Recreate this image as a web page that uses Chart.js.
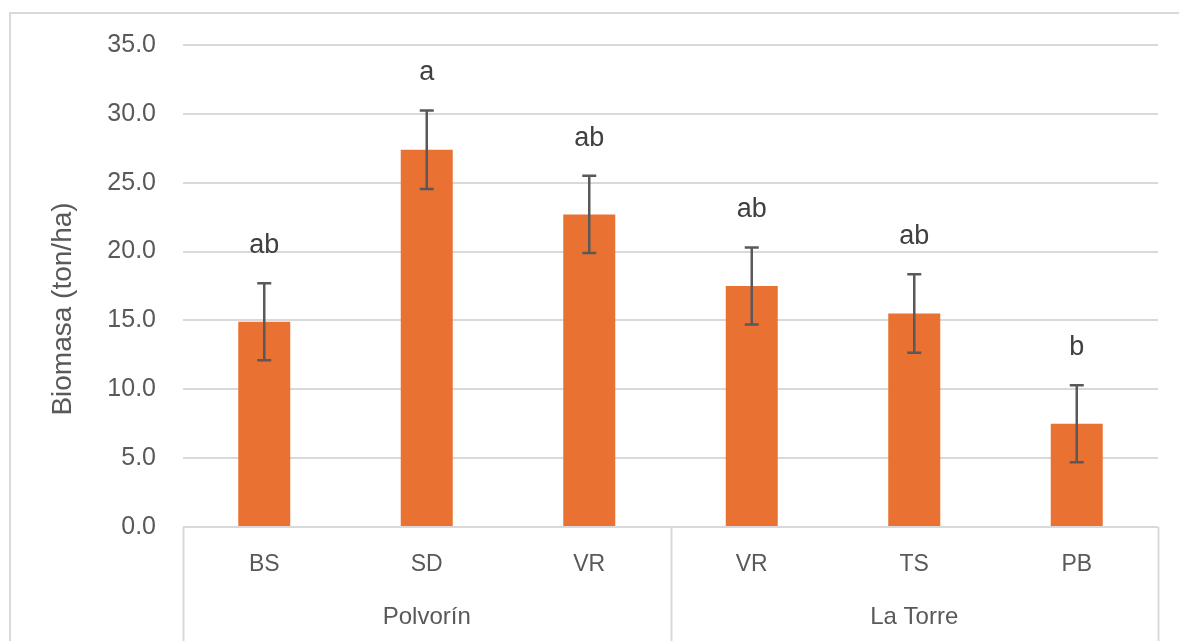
<!DOCTYPE html>
<html>
<head>
<meta charset="utf-8">
<script src="https://cdn.jsdelivr.net/npm/chart.js@4"></script>
<style>
  body { margin: 0; background: #fff; }
  #wrap { width: 1179px; height: 641px; position: relative; }
</style>
</head>
<body>
<div id="wrap"><canvas id="chart"></canvas></div>
<script>
// data
const categories = ['BS', 'SD', 'VR', 'VR', 'TS', 'PB']
const groups = ['Polvorín', 'La Torre']
const groupSizes = [3, 3]
const biomasa = [14.9, 27.4, 22.7, 17.5, 15.5, 7.5]
const errores = [2.8, 2.85, 2.8, 2.8, 2.85, 2.8]
const letras = ['ab', 'a', 'ab', 'ab', 'ab', 'b']
const yTicks = [0, 5, 10, 15, 20, 25, 30, 35]
const yTitle = 'Biomasa (ton/ha)'

const FONT = '"Liberation Sans", Arial, sans-serif'
const GRID = '#d9d9d9'
const TEXT = '#595959'

// outer frame + axis title
const framePlugin = {
  id: 'frame',
  beforeDraw(chart) {
    const ctx = chart.ctx
    ctx.save()
    ctx.strokeStyle = GRID
    ctx.lineWidth = 2
    ctx.strokeRect(10, 13, chart.width + 20, chart.height + 20)

    // excel centres the title a bit lower than the plot area
    ctx.translate(63, 309)
    ctx.rotate(-Math.PI / 2)
    ctx.fillStyle = TEXT
    ctx.font = '28px ' + FONT
    ctx.textAlign = 'center'
    ctx.textBaseline = 'middle'
    ctx.fillText(yTitle, 0, 0)
    ctx.restore()
  }
}

// error bars + significance letters
const errorPlugin = {
  id: 'errorBars',
  afterDatasetsDraw(chart) {
    const ctx = chart.ctx
    const y = chart.scales.y
    const meta = chart.getDatasetMeta(0)
    ctx.save()
    meta.data.forEach((bar, i) => {
      const top = y.getPixelForValue(biomasa[i] + errores[i])
      const bot = y.getPixelForValue(biomasa[i] - errores[i])
      ctx.strokeStyle = TEXT
      ctx.lineWidth = 2.5
      ctx.beginPath()
      ctx.moveTo(bar.x, top); ctx.lineTo(bar.x, bot)
      ctx.moveTo(bar.x - 7, top); ctx.lineTo(bar.x + 7, top)
      ctx.moveTo(bar.x - 7, bot); ctx.lineTo(bar.x + 7, bot)
      ctx.stroke()

      ctx.fillStyle = '#404040'
      ctx.font = '27px ' + FONT
      ctx.textAlign = 'center'
      ctx.textBaseline = 'alphabetic'
      ctx.fillText(letras[i], bar.x, top - 30)
    })
    ctx.restore()
  }
}

// second level of the x axis: group names and separators
const groupPlugin = {
  id: 'groupAxis',
  afterDraw(chart) {
    const ctx = chart.ctx
    const area = chart.chartArea
    const step = (area.right - area.left) / categories.length
    ctx.save()
    ctx.strokeStyle = GRID
    ctx.lineWidth = 2
    let start = 0
    const edges = [area.left]
    groupSizes.forEach((n, g) => {
      const left = area.left + start * step
      const right = area.left + (start + n) * step
      edges.push(right)
      ctx.fillStyle = TEXT
      ctx.font = '24px ' + FONT
      ctx.textAlign = 'center'
      ctx.textBaseline = 'middle'
      ctx.fillText(groups[g], (left + right) / 2, 617)
      start += n
    })
    edges.forEach(ex => {
      ctx.beginPath()
      ctx.moveTo(Math.round(ex) + 0.5, area.bottom)
      ctx.lineTo(Math.round(ex) + 0.5, chart.height)
      ctx.stroke()
    })
    ctx.restore()
  }
}

new Chart(document.getElementById('chart'), {
  type: 'bar',
  data: {
    labels: categories,
    datasets: [{
      data: biomasa,
      backgroundColor: '#E97132',
      categoryPercentage: 1,
      barPercentage: 0.32
    }]
  },
  options: {
    responsive: true,
    maintainAspectRatio: false,
    animation: false,
    layout: { padding: { left: 0, top: 45, right: 21, bottom: 0 } },
    plugins: { legend: { display: false }, tooltip: { enabled: false } },
    scales: {
      x: {
        grid: { display: false },
        border: { display: false },
        ticks: { color: TEXT, font: { family: FONT, size: 23 }, padding: 16 },
        afterFit(scale) { scale.height = 114 }
      },
      y: {
        min: 0,
        max: 35,
        afterBuildTicks(scale) { scale.ticks = yTicks.map(v => ({ value: v })) },
        grid: { color: GRID, lineWidth: 2, drawTicks: false },
        border: { display: false },
        ticks: {
          color: TEXT,
          font: { family: FONT, size: 25 },
          padding: 27,
          callback: v => v.toFixed(1)
        },
        afterFit(scale) { scale.width = 183 }
      }
    }
  },
  plugins: [framePlugin, errorPlugin, groupPlugin]
})
</script>
</body>
</html>
